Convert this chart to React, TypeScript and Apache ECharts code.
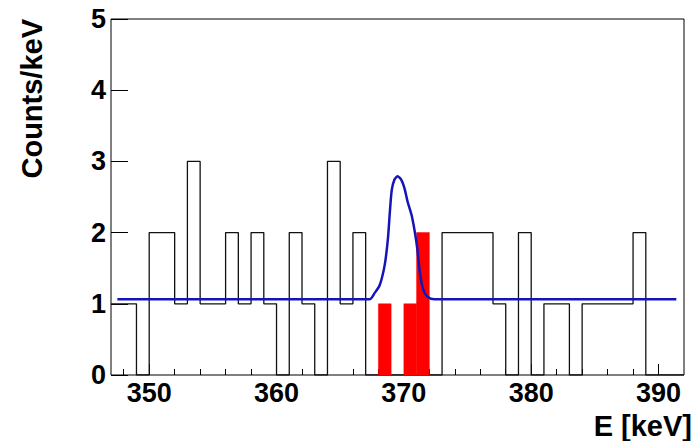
import React, { useEffect, useRef } from "react";
import * as echarts from "echarts";

// Histogram binning (keV)
const binLow = 347;
const binWidth = 1;
// Total counts per 1-keV bin, from 347 to 392 keV
const totalCounts = [
  1, 1, 0, 2, 2, 1, 3, 1, 1, 2, 1, 2, 1, 0, 2, 1, 0, 3, 1, 2, 0, 0, 0,
  0, 0, 0, 2, 2, 2, 2, 1, 0, 2, 0, 1, 1, 0, 1, 1, 1, 1, 2, 0, 0, 0,
];
// Signal-region bins (filled red)
const signalLow = [368, 370, 371];
const signalCounts = [1, 1, 2];
// Fit curve
const fitX = [
  347.5, 367.3, 367.7, 368.1, 368.5, 368.75, 368.9, 369.05, 369.25, 369.5,
  369.8, 370.05, 370.3, 370.6, 370.85, 371.05, 371.25, 371.5, 371.85, 372.4,
  391.4,
];
const fitY = [
  1.063, 1.063, 1.15, 1.26, 1.55, 1.92, 2.29, 2.6, 2.74, 2.79, 2.74, 2.62,
  2.43, 2.25, 2.02, 1.78, 1.45, 1.21, 1.1, 1.063, 1.063,
];
// Axes
const xMin = 347;
const xMax = 392;
const xMajorTicks = [350, 360, 370, 380, 390];
const xMinorTicks = [
  348, 350, 352, 354, 356, 358, 360, 362, 364, 366, 368, 370, 372, 374, 376,
  378, 380, 382, 384, 386, 388, 390,
];
const yMin = 0;
const yMax = 5;
const yStep = 1;
const xTitle = "E [keV]";
const yTitle = "Counts/keV";

const FONT = "'Liberation Sans', Arial, Helvetica, sans-serif";

export default function App() {
  const ref = useRef<HTMLDivElement>(null);

  useEffect(() => {
    if (!ref.current) return;
    const chart = echarts.init(ref.current, null, { renderer: "svg" });

    const stepData: number[][] = totalCounts.map((v, i) => [binLow + i * binWidth, v]);
    stepData.push([binLow + totalCounts.length * binWidth, totalCounts[totalCounts.length - 1]]);

    const signalData = signalLow.map((x, i) => [x, signalCounts[i]]);
    const fitData = fitX.map((x, i) => [x, fitY[i]]);

    const labelStyle = {
      fontSize: 27,
      fontWeight: "bold" as const,
      color: "#000",
      fontFamily: FONT,
    };

    chart.setOption({
      animation: false,
      backgroundColor: "#fff",
      grid: {
        left: 111,
        top: 19,
        right: 12,
        bottom: 66,
        show: true,
        borderColor: "#000",
        borderWidth: 1,
        backgroundColor: "transparent",
      },
      xAxis: [
        {
          type: "value",
          position: "bottom",
          min: xMin,
          max: xMax,
          axisLine: { show: false },
          splitLine: { show: false },
          axisTick: {
            inside: true,
            length: 6,
            customValues: xMinorTicks,
            lineStyle: { color: "#000", width: 1 },
          },
          axisLabel: { ...labelStyle, customValues: xMajorTicks, margin: 4 },
        },
        {
          type: "value",
          position: "bottom",
          min: xMin,
          max: xMax,
          axisLine: { show: false },
          splitLine: { show: false },
          axisTick: {
            inside: true,
            length: 11,
            customValues: xMajorTicks,
            lineStyle: { color: "#000", width: 1 },
          },
          axisLabel: { show: false },
        },
      ],
      yAxis: {
        type: "value",
        min: yMin,
        max: yMax,
        interval: yStep,
        axisLine: { show: false },
        splitLine: { show: false },
        axisTick: { inside: true, length: 17, lineStyle: { color: "#000", width: 1 } },
        axisLabel: { ...labelStyle, margin: 5 },
      },
      graphic: [
        {
          type: "text",
          x: 32,
          y: 19,
          rotation: Math.PI / 2,
          style: {
            text: yTitle,
            fontSize: 29,
            fontWeight: "bold",
            fontFamily: FONT,
            fill: "#000",
            align: "right",
            verticalAlign: "middle",
          },
        },
        {
          type: "text",
          x: 692,
          y: 426,
          style: {
            text: xTitle,
            fontSize: 29,
            fontWeight: "bold",
            fontFamily: FONT,
            fill: "#000",
            align: "right",
            verticalAlign: "middle",
          },
        },
      ],
      series: [
        {
          type: "line",
          xAxisIndex: 0,
          data: stepData,
          step: "end",
          symbol: "none",
          lineStyle: { color: "#111", width: 1.3 },
          z: 2,
        },
        {
          type: "custom",
          xAxisIndex: 0,
          data: signalData,
          encode: { x: 0, y: 1 },
          renderItem: (params: any, api: any) => {
            const x0 = api.value(0);
            const h = api.value(1);
            const p0 = api.coord([x0, 0]);
            const p1 = api.coord([x0 + binWidth, h]);
            return {
              type: "rect",
              shape: {
                x: p0[0],
                y: p1[1],
                width: p1[0] - p0[0],
                height: p0[1] - p1[1],
              },
              style: { fill: "#ff0000", stroke: "#ff0000", lineWidth: 0.5 },
            };
          },
          z: 3,
        },
        {
          type: "line",
          xAxisIndex: 0,
          data: fitData,
          smooth: 0.25,
          symbol: "none",
          lineStyle: { color: "#1414b8", width: 2.5 },
          z: 4,
        },
      ],
    });

    return () => chart.dispose();
  }, []);

  return (
    <div
      ref={ref}
      style={{ position: "fixed", left: 0, top: 0, width: 696, height: 441 }}
    />
  );
}
